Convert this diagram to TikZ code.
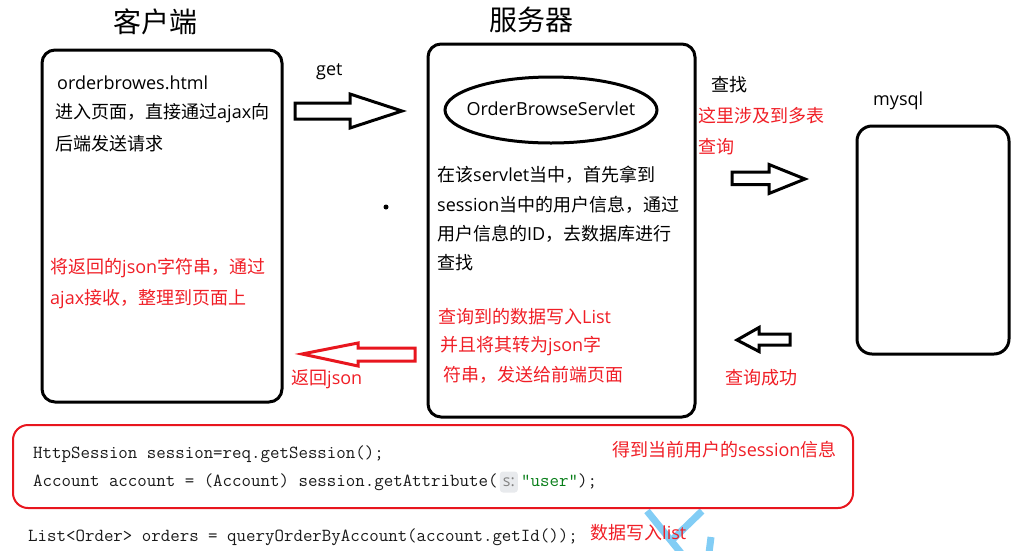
\documentclass[tikz,border=0pt]{standalone}
\usepackage{fontspec}
\setmainfont{Noto Sans CJK SC}
\newfontfamily\latfont{Open Sans}
\usetikzlibrary{positioning, shapes.geometric}
\definecolor{notered}{RGB}{240,30,38}
\definecolor{linered}{RGB}{232,22,30}
\definecolor{codegreen}{RGB}{6,125,23}
\definecolor{codeink}{RGB}{25,25,25}
\definecolor{hintgray}{RGB}{232,234,237}
\definecolor{hintink}{RGB}{130,130,130}
\definecolor{wmblue}{RGB}{130,205,245}
\newcommand{\lat}[1]{{\latfont #1}}

\begin{document}
\begin{tikzpicture}[x=1pt,y=-1pt,every node/.style={inner sep=0pt,font=\fontsize{18}{22}\selectfont},
  box/.style={draw,line width=3pt,rounded corners=13pt},
  txt/.style={anchor=west},
  redtxt/.style={anchor=west,text=notered},
  code/.style={anchor=west,text=codeink,font=\fontsize{18.4}{22}\ttfamily},
  fat/.style={draw,line width=3pt,line join=miter}]
  \useasboundingbox (0,0) rectangle (1026,550);

  % titles
  \node (tclient) at (155,22) {\fontsize{28}{32}\selectfont 客户端};
  \node (tserver) at (531,20) {\fontsize{28}{32}\selectfont 服务器};

  % client box
  \node[box,minimum width=240pt,minimum height=352pt] (client) at (162,226) {};
  \node[txt] (c1) at (57,83) {\lat{orderbrowes.html}};
  \node[txt] (c2) at (55,113.5) {进入页面，直接通过\lat{ajax}向};
  \node[txt] (c3) at (55,144) {后端发送请求};
  \node[redtxt] (c4) at (50,268.5) {将返回的\lat{json}字符串，通过};
  \node[redtxt] (c5) at (50,299.5) {\lat{ajax}接收，整理到页面上};

  % server box
  \node[box,minimum width=267pt,minimum height=373pt] (server) at (561.5,230.5) {};
  \node (servlet) at (551,109) {\lat{OrderBrowseServlet}};
  \draw[line width=3pt] (551,110) ellipse [x radius=106, y radius=33];
  \node[txt] (s1) at (437,175) {在该\lat{servlet}当中，首先拿到};
  \node[txt] (s2) at (437,205) {\lat{session}当中的用户信息，通过};
  \node[txt] (s3) at (437,234) {用户信息的\lat{ID}，去数据库进行};
  \node[txt] (s4) at (437,263) {查找};
  \node[redtxt] (s5) at (438,317) {查询到的数据写入\lat{List}};
  \node[redtxt] (s6) at (440,346) {并且将其转为\lat{json}字};
  \node[redtxt] (s7) at (443,375) {符串，发送给前端页面};

  % database
  \node[box,minimum width=152pt,minimum height=228pt,rounded corners=15pt] (db) at (933,240) {};
  \node[txt] (dbname) at (873,101) {\lat{mysql}};
  \node[txt] (q1) at (711,85) {查找};
  \node[redtxt] (q2) at (698,116) {这里涉及到多表};
  \node[redtxt] (q3) at (698,146.5) {查询};
  \node[redtxt] (q4) at (725,378) {查询成功};

  % block arrows
  \node[txt] (get) at (316,72) {\lat{get}};
  \draw[fat] (295,103) -- (350,103) -- (350,94) -- (402,111) -- (350,128) -- (350,119) -- (295,119) -- cycle;
  \draw[fat,draw=linered] (302,354) -- (358,343) -- (358,348) -- (415,348) -- (415,361) -- (358,361) -- (358,366) -- cycle;
  \node[redtxt] (back) at (291,379) {返回\lat{json}};
  \draw[fat] (732,172) -- (769,172) -- (769,164.5) -- (805,179) -- (769,193.5) -- (769,184.5) -- (732,184.5) -- cycle;
  \draw[fat] (737,340) -- (759,327.5) -- (759,334) -- (790,334) -- (790,345) -- (759,345) -- (759,351.5) -- cycle;

  \node[circle,fill=black,minimum size=5pt] (dot) at (386,207) {};

  % watermark strokes
  \draw[wmblue,line width=7pt] (647,511) -- (681,553);
  \draw[wmblue,line width=7pt] (702,511) -- (671,541);
  \draw[wmblue,line width=7pt] (711,537) -- (709,553);

  % code snippet
  \node[draw=linered,line width=2pt,rounded corners=15pt,minimum width=840pt,minimum height=83pt] (snip) at (433,466.5) {};
  \node[code] (k1) at (33,454) {HttpSession session=req.getSession();};
  \node[code] (k2) at (33,482) {Account account = (Account) session.getAttribute(};
  \node[base right=2pt of k2,fill=hintgray,rounded corners=3pt,inner xsep=3pt,inner ysep=6pt,text=hintink,font=\fontsize{16}{18}\latfont] (hint) {s:};
  \node[code,base right=3pt of hint] (k2b) {\textcolor{codegreen}{"user"});};
  \node[redtxt] (k2note) at (612,450) {得到当前用户的\lat{session}信息};
  \node[code] (k3) at (28,537) {List<Order> orders = queryOrderByAccount(account.getId());};
  \node[redtxt] (k3note) at (590,533) {数据写入\lat{list}};
\end{tikzpicture}
\end{document}
